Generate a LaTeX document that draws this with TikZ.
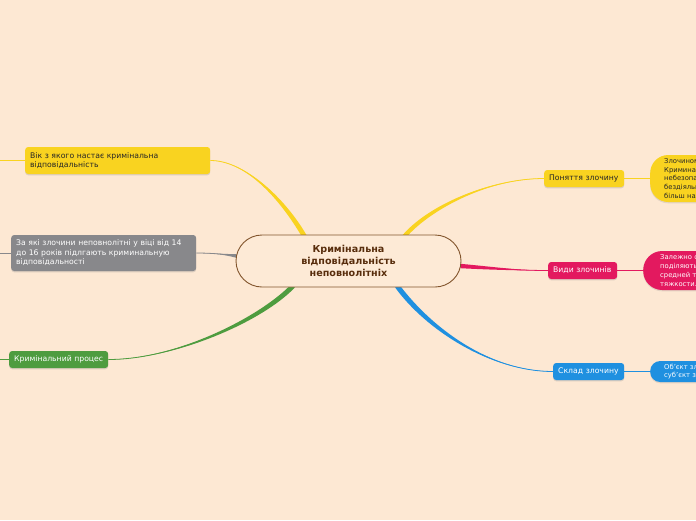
\documentclass[tikz,border=0pt]{standalone}
\usepackage{fontspec}
\setmainfont{DejaVu Sans}
\usetikzlibrary{shadows,calc}
\definecolor{bgc}{RGB}{253,232,211}
\definecolor{yel}{RGB}{249,211,32}
\definecolor{gry}{RGB}{136,136,139}
\definecolor{grn}{RGB}{78,156,63}
\definecolor{pnk}{RGB}{227,25,95}
\definecolor{blu}{RGB}{31,144,224}
\definecolor{cbord}{RGB}{130,85,45}
\definecolor{ctext}{RGB}{88,45,12}
\definecolor{cfill}{RGB}{253,234,214}
\pgfdeclarelayer{bglayer}
\pgfdeclarelayer{edgelayer}
\pgfsetlayers{bglayer,edgelayer,main}
\tikzset{
  box/.style={rounded corners=3pt, inner xsep=5pt, inner ysep=0pt, align=left,
    font=\fontsize{7.7}{9.5}\selectfont,
    drop shadow={opacity=0.25,shadow xshift=0pt,shadow yshift=-1.3pt}},
  blob/.style={inner ysep=0pt, align=left, text width=100pt,
    font=\fontsize{6.8}{8.7}\selectfont,
    drop shadow={opacity=0.2,shadow xshift=0pt,shadow yshift=-1.3pt}},
  central/.style={rounded corners=26pt, draw=cbord, line width=0.9pt, fill=cfill,
    text=ctext, align=center, font=\bfseries\fontsize{9.6}{12}\selectfont,
    minimum width=225pt, minimum height=52pt, inner sep=0pt},
  thin/.style={line width=0.8pt}
}
\begin{document}
\begin{tikzpicture}[x=1pt,y=-1pt]
\useasboundingbox (0,0) rectangle (696,520);
\begin{pgfonlayer}{bglayer}
\fill[bgc] (0,0) rectangle (696,520);
\end{pgfonlayer}
\clip (0,0) rectangle (696,520);

% central
\node[central] (c) at (348.5,261) {Кримінальна\\відповідальність\\неповнолітніх};

% left nodes
\node[box, fill=yel, text=black!85, anchor=west, text width=175pt, minimum height=27pt] (n1) at (25,160.5)
  {Вік з якого настає кримінальна\\відповідальність};
\node[box, fill=gry, text=white, anchor=west, text width=175pt, minimum height=36pt] (n2) at (11,253)
  {За які злочини неповнолітні у віці від 14\\до 16 років підлгають криминальную\\відповідальності};
\node[box, fill=grn, text=white, anchor=west, text width=89pt, minimum height=17pt] (n3) at (9,359.5)
  {Кримінальний процес};

% right nodes
\node[box, fill=yel, text=black!85, anchor=west, text width=70pt, minimum height=17pt] (r1) at (544,178.5)
  {Поняття злочину};
\node[box, fill=pnk, text=white, anchor=west, text width=59pt, minimum height=17pt] (r2) at (548,270.5)
  {Види злочинів};
\node[box, fill=blu, text=white, anchor=west, text width=61pt, minimum height=17pt] (r3) at (553,371.5)
  {Склад злочину};

% right blobs (cut by the right edge, as in the reference)
\node[blob, fill=yel, text=black!85, anchor=west, rounded corners=18pt, inner xsep=14pt, minimum height=47pt] (b1) at (650,178.5)
  {Злочином є\\Криминальним\\небезопасне\\бездіяльність\\більш налаж};
\node[blob, fill=pnk, text=white, anchor=west, rounded corners=19pt, inner xsep=17pt, minimum height=39pt] (b2) at (643,270.5)
  {Залежно от\\поділяються на\\средней тяжести\\тяжкости...};
\node[blob, fill=blu, text=white, anchor=west, rounded corners=10pt, inner xsep=14pt, minimum height=21pt] (b3) at (650,371.5)
  {Об'єкт злочину\\суб'єкт злочину};

% free ends on the left border
\coordinate (s1) at (0,160.5);
\coordinate (s2) at (0,253);
\coordinate (s3) at (0,359.5);

% start points on the central node
\coordinate (a1) at ($(c.north)+(-44.5,1)$);
\coordinate (a2) at ($(c.west)+(1,-5)$);
\coordinate (a3) at ($(c.south)+(-56,-1)$);
\coordinate (a4) at ($(c.north)+(56.5,1)$);
\coordinate (a5) at ($(c.east)+(-1,5)$);
\coordinate (a6) at ($(c.south)+(49,-1)$);

\begin{pgfonlayer}{edgelayer}
% yellow left
\fill[yel] ($(a1)+(-2.8,0)$) .. controls (279,198) and (245,160.5) .. (n1.east)
   .. controls (245,160.5) and (285,198) .. ($(a1)+(2.8,0)$) -- cycle;
\draw[yel, thin] (a1) .. controls (282,198) and (245,160.5) .. (n1.east);
% gray
\fill[gry] ($(a2)+(0,-1.8)$) .. controls (222,254) and (210,253) .. (n2.east)
   .. controls (210,253) and (222,254) .. ($(a2)+(0,1.8)$) -- cycle;
\draw[gry, thin] (a2) .. controls (222,254) and (210,253) .. (n2.east);
% green
\fill[grn] ($(a3)+(-2.4,-1)$) .. controls (258,318) and (175,359.5) .. (n3.east)
   .. controls (175,359.5) and (262,322) .. ($(a3)+(2.4,1)$) -- cycle;
\draw[grn, thin] (a3) .. controls (260,320) and (175,359.5) .. (n3.east);
% yellow right
\fill[yel] ($(a4)+(-2.8,0)$) .. controls (428,205) and (490,178.5) .. (r1.west)
   .. controls (490,178.5) and (433,208) .. ($(a4)+(2.8,0)$) -- cycle;
\draw[yel, thin] (a4) .. controls (430,206) and (490,178.5) .. (r1.west);
% pink
\fill[pnk] ($(a5)+(0,-2.2)$) .. controls (495,267) and (520,270.5) .. (r2.west)
   .. controls (520,270.5) and (495,270) .. ($(a5)+(0,2.2)$) -- cycle;
\draw[pnk, thin] (a5) .. controls (495,268.5) and (520,270.5) .. (r2.west);
% blue
\fill[blu] ($(a6)+(-2.4,1)$) .. controls (426,330) and (490,371.5) .. (r3.west)
   .. controls (490,371.5) and (432,328) .. ($(a6)+(2.4,-1)$) -- cycle;
\draw[blu, thin] (a6) .. controls (429,329) and (490,371.5) .. (r3.west);

% stubs
\draw[yel, thin] (s1) -- (n1.west);
\draw[gry, thin] (s2) -- (n2.west);
\draw[grn, thin] (s3) -- (n3.west);
\draw[yel, thin] (r1.east) -- (b1.west);
\draw[pnk, thin] (r2.east) -- (b2.west);
\draw[blu, thin] (r3.east) -- (b3.west);
\end{pgfonlayer}
\end{tikzpicture}
\end{document}
